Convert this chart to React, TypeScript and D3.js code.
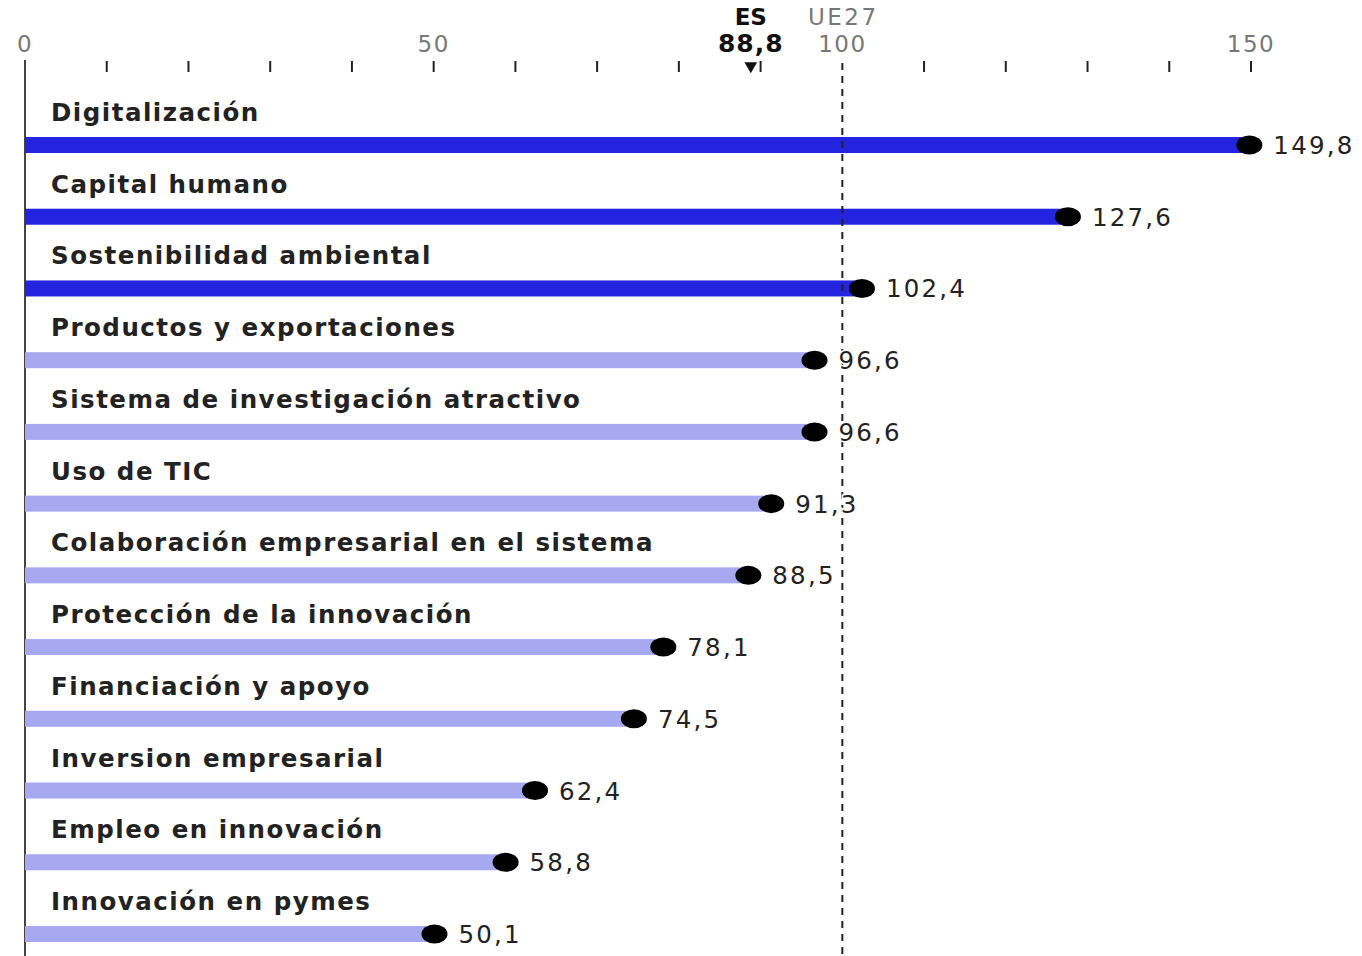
import React from 'react';
import * as d3 from 'd3';

const categories = [
  'Digitalización',
  'Capital humano',
  'Sostenibilidad ambiental',
  'Productos y exportaciones',
  'Sistema de investigación atractivo',
  'Uso de TIC',
  'Colaboración empresarial en el sistema',
  'Protección de la innovación',
  'Financiación y apoyo',
  'Inversion empresarial',
  'Empleo en innovación',
  'Innovación en pymes',
];
const values = [149.8, 127.6, 102.4, 96.6, 96.6, 91.3, 88.5, 78.1, 74.5, 62.4, 58.8, 50.1];
const tickLabels = [0, 50, 100, 150];
const minorTicks = [10, 20, 30, 40, 50, 60, 70, 80, 90, 110, 120, 130, 140, 150];
const esValue = 88.8;
const ueValue = 100;

const W = 1362;
const H = 956;
const fmt = (v: number) => v.toFixed(1).replace('.', ',');

export default function App() {
  const x = d3.scaleLinear().domain([0, 150]).range([25, 1251]);
  const y = d3.scalePoint<string>().domain(categories).range([145, 934]);
  const font = '"DejaVu Sans", Verdana, sans-serif';

  return (
    <svg width={W} height={H} style={{ display: 'block', position: 'absolute', left: 0, top: 0 }}
      fontFamily={font}>
      <rect width={W} height={H} fill="#fff" />
      {/* tick labels */}
      {tickLabels.map((t) => (
        <text key={'tl' + t} x={x(t)} y={52} textAnchor="middle" fontSize={23} fill="#777"
          letterSpacing={1.5}>
          {t}
        </text>
      ))}
      {minorTicks.map((t) => (
        <line key={'tk' + t} x1={x(t)} x2={x(t)} y1={61} y2={72} stroke="#222" strokeWidth={2} />
      ))}
      {/* ES marker */}
      <text x={x(esValue)} y={25} textAnchor="middle" fontSize={23} fontWeight={700} fill="#111">ES</text>
      <text x={x(esValue)} y={52} textAnchor="middle" fontSize={25} fontWeight={700} fill="#111"
        letterSpacing={1}>
        {fmt(esValue)}
      </text>
      <path d={d3.symbol(d3.symbolTriangle, 70)() || ''}
        transform={`translate(${x(esValue)},${66}) rotate(180)`} fill="#111" />
      <text x={x(ueValue) + 1} y={25} textAnchor="middle" fontSize={23} fill="#777" letterSpacing={2.5}>
        UE27
      </text>
      {/* axis line */}
      <line x1={x(0)} x2={x(0)} y1={60} y2={H} stroke="#444" strokeWidth={2} />
      {/* bars */}
      {categories.map((c, i) => {
        const cy = y(c) as number;
        const v = values[i];
        return (
          <g key={c}>
            <text x={51} y={cy - 24} fontSize={24.5} fontWeight={700} fill="#222" letterSpacing={1.5}>
              {c}
            </text>
            <rect x={x(0)} y={cy - 8} width={x(v) - x(0)} height={16}
              fill={v > ueValue ? '#2323e0' : '#a6a8f0'} />
          </g>
        );
      })}
      {/* UE27 dashed reference */}
      <line x1={x(ueValue)} x2={x(ueValue)} y1={63} y2={H} stroke="#222" strokeWidth={2}
        strokeDasharray="7,6" />
      {/* dots + values on top */}
      {categories.map((c, i) => {
        const cy = y(c) as number;
        const v = values[i];
        return (
          <g key={'v' + c}>
            <ellipse cx={x(v)} cy={cy} rx={13} ry={9.5} fill="#000" />
            <text x={x(v) + 24} y={cy + 9} fontSize={24.5} fill="#222" letterSpacing={2.2}
              stroke="#fff" strokeWidth={3} paintOrder="stroke">
              {fmt(v)}
            </text>
          </g>
        );
      })}
    </svg>
  );
}
